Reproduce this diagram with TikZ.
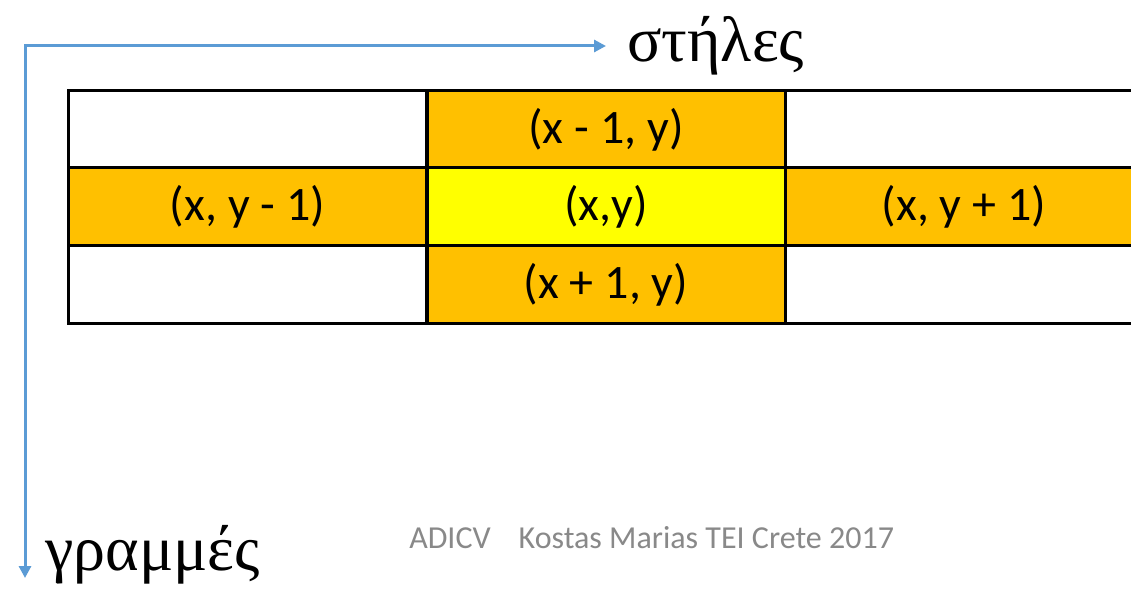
\documentclass[tikz,border=0pt]{standalone}
\usepackage{fontspec}
\setmainfont{Liberation Serif}
\newfontfamily\calfont{Carlito}
\usetikzlibrary{arrows.meta}
\definecolor{axisblue}{HTML}{5B9BD5}
\definecolor{cellorange}{HTML}{FFC000}
\definecolor{cellyellow}{HTML}{FFFF00}
\definecolor{footgray}{HTML}{898989}
\tikzset{
  cell/.style={draw=black, line width=2.25pt, minimum width=268.5pt, minimum height=58.5pt, inner sep=0pt, font=\calfont\fontsize{36}{42}\selectfont},
  hot/.style={cell, fill=cellorange},
  centre/.style={cell, fill=cellyellow},
  axis/.style={draw=axisblue, line width=2.25pt, {Triangle[length=9pt,width=9pt]}-{Triangle[length=9pt,width=9pt]}},
  greek/.style={font=\fontsize{48}{52}\selectfont, inner sep=0pt, anchor=base west},
  foot/.style={font=\calfont\fontsize{24}{28}\selectfont, text=footgray, inner sep=0pt, anchor=base west}
}
\begin{document}
\begin{tikzpicture}[x=0.75pt,y=-0.75pt]
\clip (0,0) rectangle (1131,591);
\fill[white] (0,0) rectangle (1131,591);
% grid
\node[cell] (a11) at (247.5,129.5) {};
\node[hot] (a12) at (606,129.5) {(x - 1, y)};
\node[cell] (a13) at (964,129.5) {};
\node[hot] (a21) at (247.5,207) {(x, y - 1)};
\node[centre] (a22) at (606,207) {(x,y)};
\node[hot] (a23) at (964,207) {(x, y + 1)};
\node[cell] (a31) at (247.5,285) {};
\node[hot] (a32) at (606,285) {(x + 1, y)};
\node[cell] (a33) at (964,285) {};
% axes
\coordinate (corner) at (25,46);
\coordinate (colend) at (606,46);
\coordinate (rowend) at (25,578);
\draw[axis] (rowend) -- (corner) -- (colend);
\node[greek] (cols) at (627,62) {στήλες};
\node[greek] (rows) at (45,570) {γραμμές};
\node[foot] (footer) at (409,548) {ADICV\hspace{21pt}Kostas Marias TEI Crete 2017};
\end{tikzpicture}
\end{document}
